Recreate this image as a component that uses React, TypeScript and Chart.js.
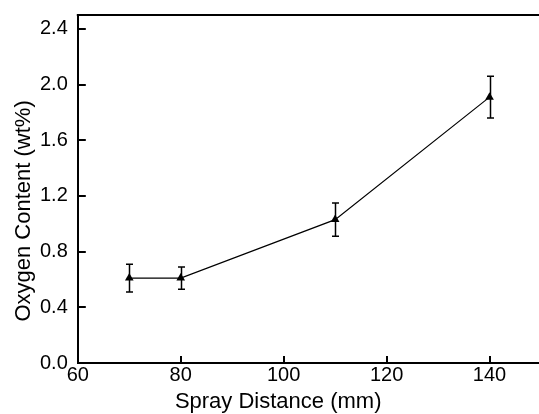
import React, { useEffect, useRef } from "react";
import { Chart, registerables } from "chart.js";

Chart.register(...registerables);

const distances = [70, 80, 110, 140];
const oxygen = [0.61, 0.61, 1.03, 1.91];
const errors = [0.1, 0.08, 0.12, 0.15];
const xTicks = [60, 80, 100, 120, 140];
const yTicks = [0.0, 0.4, 0.8, 1.2, 1.6, 2.0, 2.4];
const xTitle = "Spray Distance (mm)";
const yTitle = "Oxygen Content (wt%)";

const FONT = "'Liberation Sans', Arial, Helvetica, sans-serif";

const framePlugin = {
  id: "frameAndErrors",
  afterDatasetsDraw(chart: any) {
    const { ctx, chartArea, scales } = chart;
    const xs = scales.x;
    const ys = scales.y;
    ctx.save();
    ctx.strokeStyle = "#000";
    ctx.lineWidth = 2;
    // top border
    ctx.beginPath();
    ctx.moveTo(chartArea.left - 1, chartArea.top);
    ctx.lineTo(chartArea.right + 1, chartArea.top);
    ctx.stroke();
    // right border
    ctx.beginPath();
    ctx.moveTo(chartArea.right, chartArea.top);
    ctx.lineTo(chartArea.right, chartArea.bottom);
    ctx.stroke();
    // inward ticks
    xTicks.forEach((v) => {
      const px = Math.round(xs.getPixelForValue(v));
      ctx.beginPath();
      ctx.moveTo(px, chartArea.bottom);
      ctx.lineTo(px, chartArea.bottom - 7);
      ctx.stroke();
    });
    yTicks.forEach((v) => {
      const py = Math.round(ys.getPixelForValue(v));
      ctx.beginPath();
      ctx.moveTo(chartArea.left, py);
      ctx.lineTo(chartArea.left + 8, py);
      ctx.stroke();
    });
    // error bars
    ctx.lineWidth = 1.5;
    distances.forEach((d, i) => {
      const px = Math.round(xs.getPixelForValue(d)) + 0.5;
      const top = ys.getPixelForValue(oxygen[i] + errors[i]);
      const bot = ys.getPixelForValue(oxygen[i] - errors[i]);
      ctx.beginPath();
      ctx.moveTo(px, top);
      ctx.lineTo(px, bot);
      ctx.moveTo(px - 3.5, top);
      ctx.lineTo(px + 3.5, top);
      ctx.moveTo(px - 3.5, bot);
      ctx.lineTo(px + 3.5, bot);
      ctx.stroke();
    });
    // axis titles
    ctx.fillStyle = "#000";
    ctx.font = `22px ${FONT}`;
    ctx.textAlign = "center";
    ctx.textBaseline = "alphabetic";
    const w = chartArea.right - chartArea.left;
    const h = chartArea.bottom - chartArea.top;
    ctx.fillText(xTitle, chartArea.left + 0.4326 * w, chartArea.bottom + 45);
    ctx.save();
    ctx.translate(30, chartArea.top + 0.563 * h);
    ctx.rotate(-Math.PI / 2);
    ctx.fillText(yTitle, 0, 0);
    ctx.restore();
    ctx.restore();
  },
};

export default function App() {
  const ref = useRef<HTMLCanvasElement | null>(null);
  useEffect(() => {
    if (!ref.current) return;
    const chart = new Chart(ref.current, {
      type: "line",
      data: {
        datasets: [
          {
            data: distances.map((d, i) => ({ x: d, y: oxygen[i] })),
            borderColor: "#000",
            borderWidth: 1.2,
            backgroundColor: "#000",
            pointStyle: "triangle",
            pointRadius: 5,
            pointBorderWidth: 0,
            tension: 0,
          },
        ],
      },
      options: {
        animation: false,
        responsive: false,
        maintainAspectRatio: false,
        layout: { padding: { top: 15, right: 4.5, bottom: 27, left: 30 } },
        plugins: { legend: { display: false }, tooltip: { enabled: false } },
        scales: {
          x: {
            type: "linear",
            min: 60,
            max: 150,
            afterBuildTicks: (s: any) => {
              s.ticks = xTicks.map((v) => ({ value: v }));
            },
            grid: { display: false, drawTicks: false },
            border: { display: true, color: "#000", width: 2 },
            ticks: {
              color: "#000",
              padding: 0,
              maxRotation: 0,
              font: { family: FONT, size: 20, lineHeight: 1.2 },
            },
          },
          y: {
            type: "linear",
            min: 0,
            max: 2.5,
            afterBuildTicks: (s: any) => {
              s.ticks = yTicks.map((v) => ({ value: v }));
            },
            grid: { display: false, drawTicks: false },
            border: { display: true, color: "#000", width: 2 },
            ticks: {
              color: "#000",
              padding: 10,
              font: { family: FONT, size: 20, lineHeight: 0.4 },
              callback: (v: any) => Number(v).toFixed(1),
            },
          },
        },
      },
      plugins: [framePlugin],
    });
    return () => chart.destroy();
  }, []);
  return (
    <div
      style={{
        position: "fixed",
        left: 0,
        top: 0,
        width: 539,
        height: 414,
        overflow: "hidden",
        background: "#fff",
      }}
    >
      <canvas ref={ref} width={546} height={414} style={{ width: 546, height: 414, display: "block" }} />
    </div>
  );
}
